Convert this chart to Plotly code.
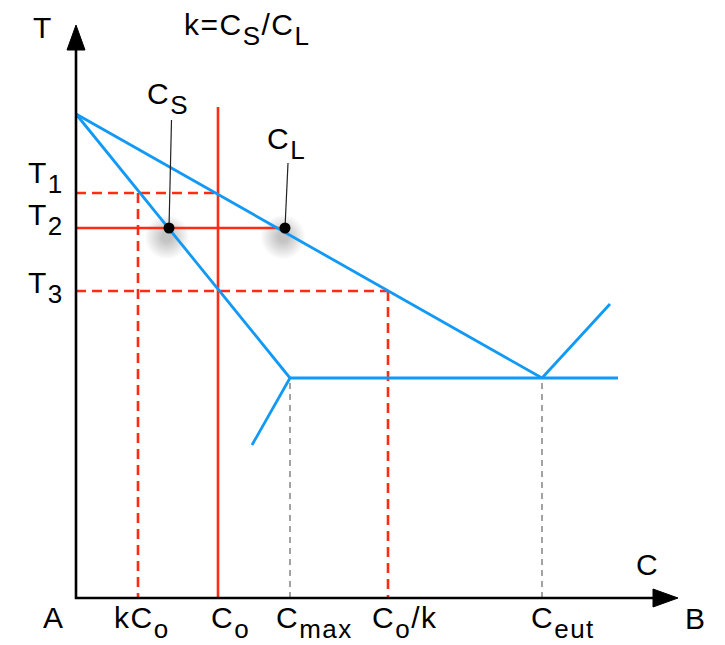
import plotly.graph_objects as go

# ---------------- data (composition C in arbitrary units, temperature T in arbitrary units)
T_melt_A = 484
T_eut = 220
comp_names = ["kC_o", "C_o", "C_max", "C_o/k", "C_eut"]
comp_values = [62, 142, 214, 312, 466]
temp_names = ["T_1", "T_2", "T_3"]
temp_values = [405, 370, 307]

liquidus_C = [0, 466]
liquidus_T = [484, 220]
solidus_C = [0, 214]
solidus_T = [484, 220]
eutectic_C = [214, 542]
alpha_solvus_C = [214, 176]
alpha_solvus_T = [220, 153]
beta_liq_C = [466, 534]
beta_liq_T = [220, 294]
Co_top_T = 491
cs_point = (93, 370)
cl_point = (209, 370)
cs_label_anchor = (95.5, 478)
cl_label_anchor = (212, 435)

# axis extents
axis_C_max = 577
axis_T_max = 548
arrow_len = 25
arrow_half = 9

BLUE = "#1199F5"
RED = "#FF2B12"
MAIN = 30
SUB = 26
fig = go.Figure()

kCo, Co, Cmax, Cok, Ceut = comp_values
T1, T2, T3 = temp_values


def fmt(s):
    """Turn 'X_y' / 'X_y/k' into rich text with an enlarged, lowered subscript."""
    out = ""
    i = 0
    while i < len(s):
        if s[i] == "_":
            j = i + 1
            while j < len(s) and s[j].isalnum():
                j += 1
            out += ("<sub><span style='font-size:%dpx;baseline-shift:-4px'>%s</span></sub>"
                    % (SUB, s[i + 1:j]))
            i = j
        else:
            out += s[i]
            i += 1
    return "<span style='letter-spacing:1.5px'>" + out + "</span>"


def line(xs, ys, color, width, dash=None):
    fig.add_trace(go.Scatter(x=xs, y=ys, mode="lines",
                             line=dict(color=color, width=width, dash=dash),
                             hoverinfo="skip"))

# soft shadows below the points
for (px, py) in [cs_point, cl_point]:
    for s in range(44, 10, -3):
        fig.add_trace(go.Scatter(x=[px - 2], y=[py - 9], mode="markers",
                                 marker=dict(size=s, color="black", opacity=0.018, line=dict(width=0)),
                                 hoverinfo="skip"))

# gray dashed guides
line([Cmax, Cmax], [0, T_eut], "#666666", 1.2, "6px,5px")
line([Ceut, Ceut], [0, T_eut], "#666666", 1.2, "6px,5px")

# red construction lines
line([0, Co], [T1, T1], RED, 2.6, "10px,6px")
line([kCo, kCo], [T1, 0], RED, 2.6, "10px,6px")
line([0, Cok], [T3, T3], RED, 2.6, "10px,6px")
line([Cok, Cok], [T3, 0], RED, 2.6, "10px,6px")
line([0, cl_point[0]], [T2, T2], RED, 2.6)
line([Co, Co], [Co_top_T, 0], RED, 2.6)

# phase boundaries
line(liquidus_C, liquidus_T, BLUE, 2.8)
line(solidus_C, solidus_T, BLUE, 2.8)
line(eutectic_C, [T_eut, T_eut], BLUE, 2.8)
line(alpha_solvus_C, alpha_solvus_T, BLUE, 2.8)
line(beta_liq_C, beta_liq_T, BLUE, 2.8)

# leader lines
line([cs_label_anchor[0], cs_point[0]], [cs_label_anchor[1], cs_point[1]], "#222222", 1.2)
line([cl_label_anchor[0], cl_point[0]], [cl_label_anchor[1], cl_point[1]], "#222222", 1.2)

# points
fig.add_trace(go.Scatter(x=[cs_point[0], cl_point[0]], y=[cs_point[1], cl_point[1]], mode="markers",
                         marker=dict(size=11, color="black"), hoverinfo="skip"))

# axes
line([0, 0, axis_C_max], [axis_T_max, 0, 0], "black", 2.6)
fig.add_trace(go.Scatter(x=[-arrow_half, arrow_half, 0, -arrow_half],
                         y=[axis_T_max, axis_T_max, axis_T_max + arrow_len, axis_T_max],
                         mode="lines", fill="toself", fillcolor="black",
                         line=dict(color="black", width=1), hoverinfo="skip"))
fig.add_trace(go.Scatter(x=[axis_C_max, axis_C_max, axis_C_max + arrow_len, axis_C_max],
                         y=[-arrow_half, arrow_half, 0, -arrow_half],
                         mode="lines", fill="toself", fillcolor="black",
                         line=dict(color="black", width=1), hoverinfo="skip"))

FONT = dict(family="Liberation Sans, Arial, sans-serif", size=MAIN, color="black")


def text(x, y, s, xanchor="left", yanchor="middle"):
    fig.add_annotation(x=x, y=y, xref="x", yref="y", text=fmt(s), showarrow=False,
                       xanchor=xanchor, yanchor=yanchor, font=FONT)

text(-33, 571, "T", "center")
text(106, 569, "k=C_S/C_L")
text(69, 500, "C_S")
text(189, 455, "C_L")
for name, tv, off in zip(temp_names, temp_values, [16, 8.5, 4]):
    text(-50, tv + off, name)
text(-22, -19, "A", "center")
label_lefts = [36, 133, 198, 294, 453]
for name, lx in zip(comp_names, label_lefts):
    text(lx, -24, name)
text(620, -20, "B", "center")
text(571, 34, "C", "center")

fig.update_layout(width=725, height=645, margin=dict(l=0, r=0, t=0, b=0),
                  paper_bgcolor="white", plot_bgcolor="white", showlegend=False,
                  xaxis=dict(range=[-76, 649], visible=False, fixedrange=True),
                  yaxis=dict(range=[-47, 598], visible=False, fixedrange=True))
fig.write_html("out.html")
